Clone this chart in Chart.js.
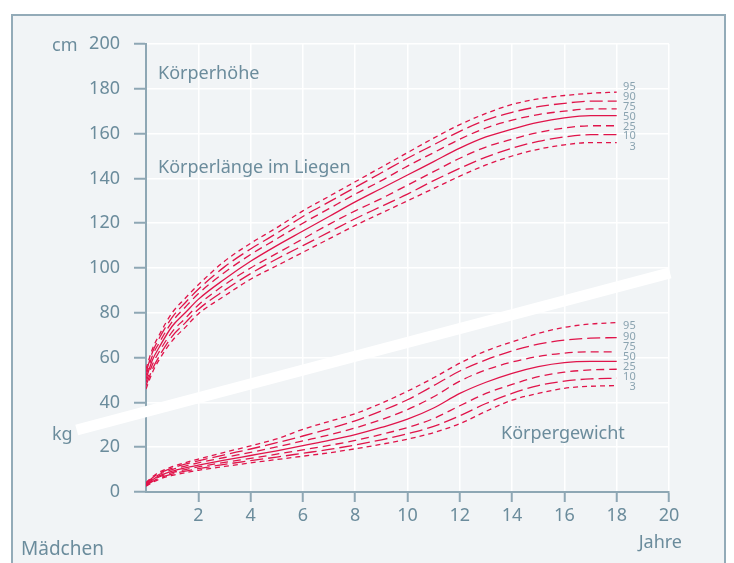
<!DOCTYPE html>
<html>
<head>
<meta charset="utf-8">
<script src="https://cdn.jsdelivr.net/npm/chart.js@4/dist/chart.umd.min.js"></script>
<style>
  body { margin: 0; background: #fff; }
  #frame { position: absolute; left: 11px; top: 14px; width: 711px; height: 600px;
           border: 2px solid #93abb8; background: #f1f4f6; }
  #c { position: absolute; left: 0; top: 0; }
</style>
</head>
<body>
<div id="frame"></div>
<canvas id="c" width="734" height="563"></canvas>
<script>
// Alter in Jahren
const ages = [0, 0.25, 0.5, 1, 1.5, 2, 3, 4, 5, 6, 7, 8, 9, 10, 11, 12, 13, 14, 15, 16, 17, 18];

// Körperhöhe (cm), Perzentile
const heightP3  = [46, 53.5, 59, 67.5, 73.5, 79.5, 87.5, 95, 101, 107, 113, 119, 124.5, 130, 135.5, 141, 146, 150, 153, 155, 156, 156];
const heightP10 = [47.5, 55, 60.5, 69.5, 75.5, 81.5, 90, 97.5, 104, 110, 116, 122, 127.5, 133, 139, 144.5, 149.5, 153.5, 156.5, 158.5, 159.5, 159.5];
const heightP25 = [49, 57, 62.5, 71.5, 77.5, 83.5, 92.5, 100, 106.5, 113, 119.5, 125.5, 131, 137, 143, 149, 154, 157.5, 160.5, 162.5, 163.5, 163.5];
const heightP50 = [50.5, 59, 64.5, 74, 80, 86, 95, 103, 110, 116.5, 123, 129.5, 135.5, 141.5, 147.5, 153.5, 158.5, 162, 165, 167, 168, 168];
const heightP75 = [52, 61, 66.5, 76, 82.5, 88.5, 98, 106, 113, 120, 126.5, 133, 139, 145.5, 151.5, 157.5, 162.5, 166, 168.5, 170, 171, 171];
const heightP90 = [53.5, 62.5, 68.5, 78, 84.5, 90.5, 100.5, 108.5, 115.5, 123, 129.5, 136, 142.5, 149, 155, 161, 166, 169.5, 172, 173.5, 174.5, 174.5];
const heightP95 = [55, 64, 70, 80, 86.5, 92.5, 103, 111, 118, 125.5, 132, 138.5, 145, 151.5, 158, 164, 169, 173, 175.5, 177, 178, 178.5];

// Körpergewicht (kg), Perzentile
const weightP3  = [2.6, 4.3, 5.7, 7.4, 8.6, 9.7, 11.4, 13, 14.5, 16, 17.5, 19.3, 21.3, 23.6, 26.5, 30.5, 36, 41, 44, 46.3, 47.2, 47.5];
const weightP10 = [2.9, 4.7, 6.2, 8, 9.3, 10.4, 12.3, 14, 15.6, 17.3, 19, 21, 23.3, 26, 29.3, 34, 39.5, 44, 47.5, 49.5, 50.5, 50.8];
const weightP25 = [3.1, 5.1, 6.7, 8.6, 10, 11.2, 13.2, 15, 16.9, 18.8, 20.8, 23, 25.7, 28.8, 32.8, 38.5, 44, 48, 51.5, 53.5, 54.5, 54.8];
const weightP50 = [3.4, 5.5, 7.2, 9.3, 10.8, 12, 14.2, 16.3, 18.4, 20.7, 23, 25.6, 28.8, 32.5, 37.5, 44, 49, 53, 56, 57.8, 58.3, 58.3];
const weightP75 = [3.7, 6, 7.8, 10, 11.6, 13, 15.4, 17.7, 20.1, 22.8, 25.5, 28.6, 32.3, 36.8, 42.5, 49.5, 54.5, 58, 60.5, 62, 62.6, 62.6];
const weightP90 = [4, 6.4, 8.3, 10.7, 12.4, 13.9, 16.6, 19.2, 22, 25, 28.2, 31.8, 36.2, 41.2, 47.5, 54, 59, 63, 66, 67.8, 68.7, 68.9];
const weightP95 = [4.2, 6.8, 8.8, 11.3, 13.1, 14.7, 17.7, 20.6, 23.7, 28, 31.5, 35, 39.6, 45, 51, 57.5, 63, 67, 70.8, 73.5, 75, 75.6];

// Beschriftungen
const pctLabels = ['95', '90', '75', '50', '25', '10', '3'];
const xTicks = [2, 4, 6, 8, 10, 12, 14, 16, 18, 20];

// weisses Trennband (Alter, Wert)
const bandX = [-2.65, 20.04];
const bandY = [27.7, 97.8];

const red = '#e0144a';
const axisColor = '#8ea7b4';
const textColor = '#6b8c9c';
const fontFamily = '"Noto Sans", sans-serif';

function pts(ys) {
  return ages.map((a, i) => ({ x: a, y: ys[i] }));
}

const dashes = [[5, 4], [13, 5], [8, 5], [], [8, 5], [13, 5], [5, 4]];
const heightSets = [heightP95, heightP90, heightP75, heightP50, heightP25, heightP10, heightP3];
const weightSets = [weightP95, weightP90, weightP75, weightP50, weightP25, weightP10, weightP3];

const datasets = [];
datasets.push({
  data: bandX.map((x, i) => ({ x: x, y: bandY[i] })),
  borderColor: '#ffffff', borderWidth: 11, pointRadius: 0, clip: false,
  borderCapStyle: 'butt'
});
heightSets.concat(weightSets).forEach((s, i) => {
  datasets.push({
    data: pts(s),
    borderColor: red, borderWidth: 1.3, borderDash: dashes[i % 7],
    pointRadius: 0, cubicInterpolationMode: 'monotone', fill: false
  });
});

// Texte auf der Zeichenfläche
const textPlugin = {
  id: 'texts',
  afterDatasetsDraw(chart) {
    const ctx = chart.ctx;
    const xs = chart.scales.x, ys = chart.scales.y;
    ctx.save();
    ctx.fillStyle = textColor;
    ctx.font = '18px ' + fontFamily;
    ctx.textBaseline = 'middle';
    ctx.textAlign = 'left';
    ctx.fillText('Körperhöhe', 158, 74);
    ctx.fillText('Körperlänge im Liegen', 158, 168);
    ctx.fillText('Körpergewicht', 501, 434);
    ctx.fillText('cm', 52, 46);
    ctx.fillText('kg', 52, 435);
    ctx.textAlign = 'right';
    ctx.fillText('Jahre', 682, 543);
    ctx.textAlign = 'left';
    ctx.font = '19px ' + fontFamily;
    ctx.fillText('Mädchen', 21, 550);

    // Perzentilen-Beschriftung rechts
    ctx.font = '11px ' + fontFamily;
    ctx.fillStyle = '#8aa3b0';
    ctx.textAlign = 'right';
    const hy = [180.8, 176.5, 172.1, 167.6, 163.1, 158.8, 154.2];
    const wy = [74.2, 69.3, 65, 60.4, 55.9, 51.5, 47];
    const lx = xs.getPixelForValue(18) + 19;
    pctLabels.forEach((t, i) => {
      ctx.fillText(t, lx, ys.getPixelForValue(hy[i]));
      ctx.fillText(t, lx, ys.getPixelForValue(wy[i]));
    });
    ctx.restore();
  }
};

new Chart(document.getElementById('c'), {
  type: 'line',
  data: { datasets: datasets },
  options: {
    responsive: false,
    animation: false,
    layout: { padding: { left: 0, right: 65, top: 44, bottom: 0 } },
    plugins: { legend: { display: false }, tooltip: { enabled: false } },
    scales: {
      x: {
        type: 'linear', min: 0, max: 20,
        afterFit: (s) => { s.height = 71; },
        afterBuildTicks: (s) => { s.ticks = [0].concat(xTicks).map(v => ({ value: v })); },
        ticks: {
          callback: (v) => (v === 0 ? '' : v),
          color: textColor, font: { family: fontFamily, size: 18 },
          padding: 3, maxRotation: 0, autoSkip: false
        },
        grid: {
          color: '#ffffff', lineWidth: 1.5, tickLength: 10, tickWidth: 2,
          tickColor: (c) => (c.tick && c.tick.value === 0 ? 'rgba(0,0,0,0)' : axisColor)
        },
        border: { color: axisColor, width: 2 }
      },
      y: {
        min: 0, max: 200,
        afterFit: (s) => { s.width = 146; },
        ticks: {
          stepSize: 20, color: textColor, font: { family: fontFamily, size: 18 },
          padding: 14
        },
        grid: { color: '#ffffff', lineWidth: 1.5, tickLength: 12, tickWidth: 2, tickColor: axisColor },
        border: { color: axisColor, width: 2 }
      }
    }
  },
  plugins: [textPlugin]
});
</script>
</body>
</html>
